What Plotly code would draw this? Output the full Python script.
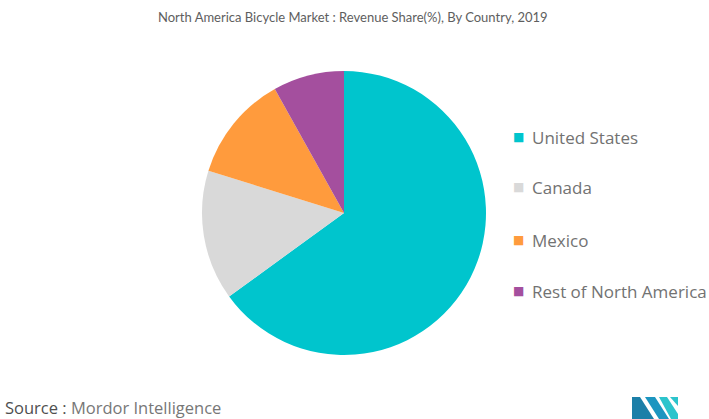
import plotly.graph_objects as go

# ===== Data =====
countries = ["United States", "Canada", "Mexico", "Rest of North America"]
shares = [65.0, 14.8, 12.1, 8.1]
colors = ["#00C5CD", "#D9D9D9", "#FF9B3D", "#A44F9E"]

W, H = 709, 419

fig = go.Figure()

# ===== Pie =====
fig.add_trace(go.Pie(
    labels=countries,
    values=shares,
    marker=dict(colors=colors, line=dict(width=0)),
    sort=False,
    direction="clockwise",
    rotation=0,
    textinfo="none",
    hoverinfo="label+percent",
    showlegend=False,
    domain=dict(x=[202 / W, 486 / W], y=[(H - 355) / H, (H - 71) / H]),
))

# ===== Legend (hand-built for the wide spacing) =====
legend_y = [137, 187, 240, 291]
for name, color, yy in zip(countries, colors, legend_y):
    fig.add_annotation(
        x=511 / W, y=1 - yy / H, xref="paper", yref="paper",
        xanchor="left", yanchor="middle", showarrow=False,
        text=f"<span style='color:{color}'>■</span>",
        font=dict(family="DejaVu Sans", size=12),
    )
    fig.add_annotation(
        x=530 / W, y=1 - yy / H, xref="paper", yref="paper",
        xanchor="left", yanchor="middle", showarrow=False,
        text=name,
        font=dict(family="Open Sans", size=17, color="#727272"),
    )

# ===== Title & source =====
fig.add_annotation(
    x=353 / W, y=1 - 17 / H, xref="paper", yref="paper",
    xanchor="center", yanchor="middle", showarrow=False,
    text="North America Bicycle Market : Revenue Share(%), By Country, 2019",
    font=dict(family="Lato", size=13, color="#5e5e5e"),
)
fig.add_annotation(
    x=3 / W, y=1 - 407 / H, xref="paper", yref="paper",
    xanchor="left", yanchor="middle", showarrow=False,
    text="<span style='color:#4f4f4f'>Source :</span> Mordor Intelligence",
    font=dict(family="Open Sans", size=16.5, color="#777777"),
)

# ===== Logo (rough) =====
def px(x, y):
    return f"{x / W},{1 - y / H}"

logo = [
    ([(632, 419), (632, 397), (640, 397), (654, 419)], "#1C7FA8"),
    ([(645, 397), (655, 397), (669, 419), (659, 419)], "#1C95C0"),
    ([(659, 397), (667, 397), (678, 414), (678, 419), (671, 419)], "#2CC4CC"),
    ([(670, 397), (678, 397), (678, 406)], "#2CC4CC"),
]
for pts, c in logo:
    path = "M " + " L ".join(px(*p) for p in pts) + " Z"
    fig.add_shape(type="path", path=path, xref="paper", yref="paper",
                  fillcolor=c, line=dict(width=0))

fig.update_layout(
    width=W, height=H,
    margin=dict(l=0, r=0, t=0, b=0),
    paper_bgcolor="white",
    plot_bgcolor="white",
)

fig.write_html(
    "out.html",
    config=dict(displayModeBar=False),
    post_script="document.body.style.margin='0';document.body.style.overflow='hidden';",
)
